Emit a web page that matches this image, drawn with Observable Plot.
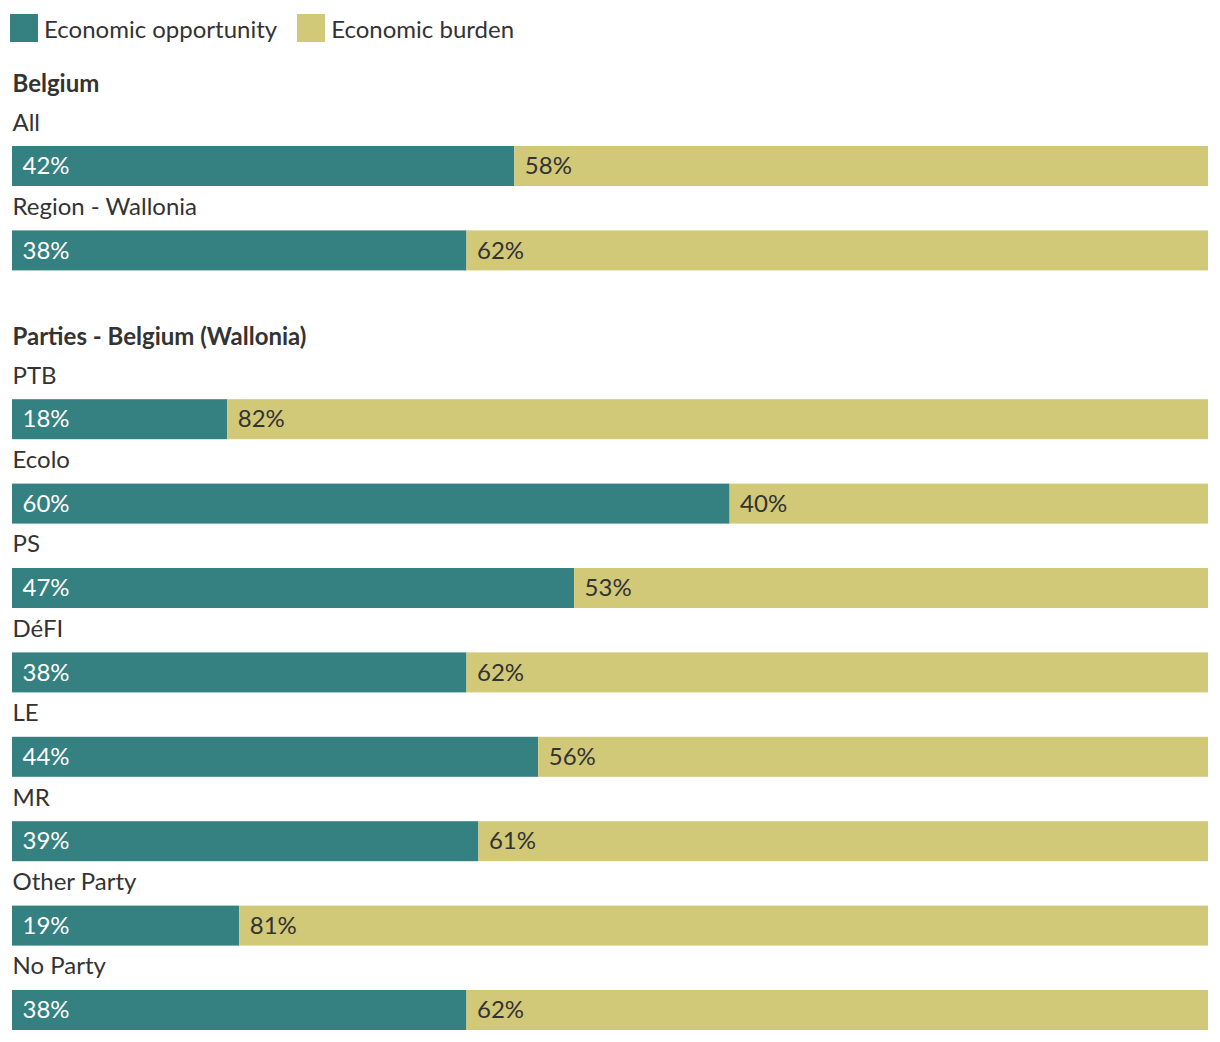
<!DOCTYPE html>
<html>
<head>
<meta charset="utf-8">
<script src="https://cdn.jsdelivr.net/npm/d3@7"></script>
<script src="https://cdn.jsdelivr.net/npm/@observablehq/plot@0.6"></script>
<style>
  html, body { margin: 0; padding: 0; background: #fff; }
  body { font-family: Lato, "Open Sans", sans-serif; color: #333; width: 1220px; }
  .legend { display: flex; align-items: center; height: 56px; box-sizing: border-box; padding: 14px 0 14px 10px; font-size: 24px; }
  .item { display: flex; align-items: center; margin-right: 20px; }
  .sw { width: 28px; height: 28px; margin-right: 6px; flex: none; }
  svg { display: block; }
</style>
</head>
<body>
<div class="legend" id="legend"></div>
<div id="chart"></div>
<script>
const seriesNames = ["Economic opportunity", "Economic burden"];
const seriesColors = ["#358080", "#D1C878"];
const groupNames = ["Belgium", "Parties - Belgium (Wallonia)"];
const belgiumCategories = ["All", "Region - Wallonia"];
const partyCategories = ["PTB", "Ecolo", "PS", "DéFI", "LE", "MR", "Other Party", "No Party"];
const opportunity = [42, 38, 18, 60, 47, 38, 44, 39, 19, 38];
const burden = [58, 62, 82, 40, 53, 62, 56, 61, 81, 62];

const categories = [...belgiumCategories, ...partyCategories];
const slots = [groupNames[0], ...belgiumCategories, groupNames[1], ...partyCategories];

const rows = [];
categories.forEach((c, i) => {
  rows.push({key: c, series: seriesNames[0], value: opportunity[i]});
  rows.push({key: c, series: seriesNames[1], value: burden[i]});
});

// legend
const leg = document.getElementById("legend");
seriesNames.forEach((s, i) => {
  const it = document.createElement("div");
  it.className = "item";
  const sw = document.createElement("div");
  sw.className = "sw";
  sw.style.background = seriesColors[i];
  const lb = document.createElement("span");
  lb.textContent = s;
  it.appendChild(sw); it.appendChild(lb);
  leg.appendChild(it);
});

const fontSize = 24;
const chart = Plot.plot({
  width: 1220,
  height: 986,
  marginLeft: 12,
  marginRight: 12,
  marginTop: 0,
  marginBottom: 0,
  style: {fontFamily: "Lato, 'Open Sans', sans-serif", fontSize: fontSize + "px", color: "#333", background: "#fff"},
  x: {domain: [0, 100], axis: null},
  y: {type: "band", domain: slots, range: [5.6, 974], paddingInner: 0.526, paddingOuter: 0, round: false, axis: null},
  color: {domain: seriesNames, range: seriesColors},
  marks: [
    Plot.barX(rows, {x: "value", y: "key", fill: "series", order: seriesNames}),
    Plot.text(rows, Plot.stackX1({
      x: "value", y: "key", order: seriesNames,
      text: d => d.value + "%",
      textAnchor: "start", dx: 10, lineAnchor: "middle",
      fontSize,
      fill: d => d.series === seriesNames[0] ? "#ffffff" : "#333333"
    })),
    Plot.text(categories, {
      y: d => d, text: d => d, frameAnchor: "left",
      textAnchor: "start", lineAnchor: "bottom", dy: -36, fontSize, fill: "#333"
    }),
    Plot.text(groupNames, {
      y: d => d, text: d => d, frameAnchor: "left",
      textAnchor: "start", lineAnchor: "bottom", dy: 10, fontSize, fontWeight: "bold", fill: "#333"
    })
  ]
});
document.getElementById("chart").appendChild(chart);
</script>
</body>
</html>
